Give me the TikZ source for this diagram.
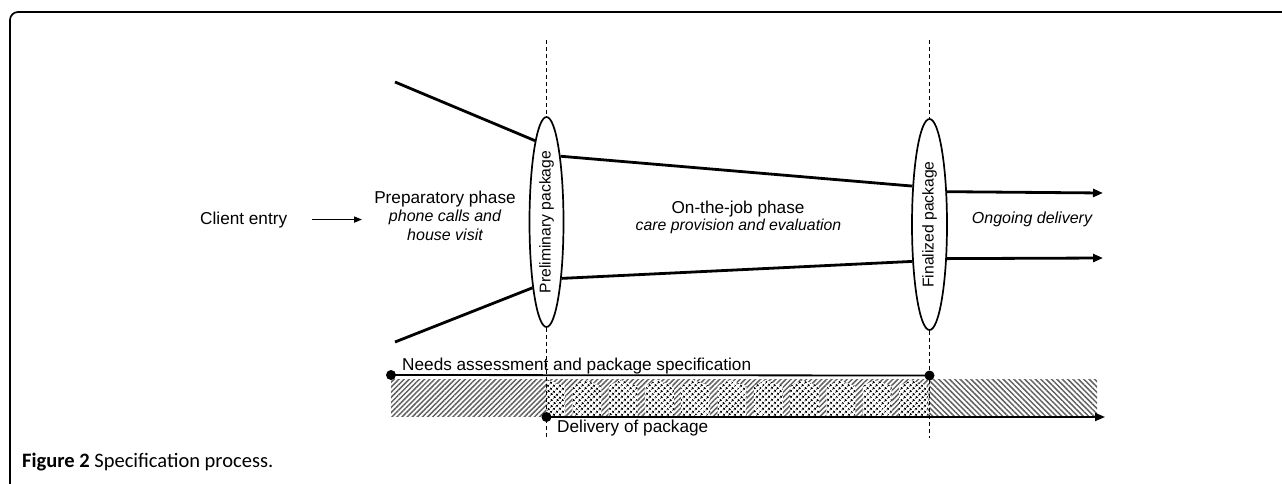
\documentclass[tikz,border=0pt]{standalone}
\usepackage{fontspec}
\setmainfont{Liberation Sans}
\newfontfamily\capfont{Carlito}
\usetikzlibrary{arrows.meta,patterns.meta,shapes.geometric}
\begin{document}
\begin{tikzpicture}[x=1pt,y=-1pt,
  txt/.style={inner sep=0pt, font=\fontsize{17.2}{20}\selectfont},
  itx/.style={inner sep=0pt, font=\fontsize{16}{19}\selectfont\itshape},
  pkg/.style={ellipse, draw, line width=1.7pt, minimum width=34pt, minimum height=210pt, inner sep=0pt},
  pkgtxt/.style={inner sep=0pt, rotate=90, font=\fontsize{15.7}{18}\selectfont},
  flow/.style={line width=2.8pt},
  flowarrow/.style={line width=2.8pt, -{Triangle[length=10pt,width=8pt]}},
  thinarrow/.style={line width=1.5pt, -{Triangle[length=8pt,width=6pt]}},
  guide/.style={line width=1.2pt, dash pattern=on 4pt off 3pt},
  dotmark/.style={circle, fill, inner sep=0pt, minimum size=10pt},
  stripeA/.style={pattern={Lines[angle=45,distance=3.6pt,line width=1.5pt]}, pattern color=black!62},
  stripeB/.style={pattern={Lines[angle=-45,distance=3.8pt,line width=1.5pt]}, pattern color=black!62},
  checks/.style={pattern={Dots[angle=45,distance=4pt,radius=1.4pt]}, pattern color=black},
]
\useasboundingbox (0,0) rectangle (1282,483);
% frame
\draw[line width=1.7pt, rounded corners=8pt] (10,495) -- (10,12) -- (1295,12);

% ellipses and labels
\node[pkg] (e1) at (546.5,222) {};
\node[pkgtxt] (l1) at (e1.center) {Preliminary package};
\node[pkg, minimum width=35pt, minimum height=211pt] (e2) at (929.5,224.5) {};
\node[pkgtxt] (l2) at (e2.center) {Finalized package};

% guide lines
\coordinate (g1t) at (546.5,40);
\coordinate (g1b) at (546.5,438);
\coordinate (g2t) at (929.5,40);
\coordinate (g2b) at (929.5,438);
\draw[guide] (g1t) -- (e1.north);
\draw[guide] (g2t) -- (e2.north);

% flow lines
\coordinate (in1) at (395,82);
\coordinate (in2) at (395,342);
\coordinate (out1) at (1103,193);
\coordinate (out2) at (1103,258);
\draw[flow] (in1) -- (e1.98);
\draw[flow] (in2) -- (e1.258.4);
\draw[flow] (e1.78) -- (e2.114.2);
\draw[flow] (e1.285.9) -- (e2.245.8);
\draw[flowarrow] (e2.62.1) -- (out1);
\draw[flowarrow] (e2.-63.6) -- (out2);

% texts
\node[txt, anchor=base west] (client) at (200,224) {Client entry};
\node[txt, anchor=base] (prep1) at (445,203) {Preparatory phase};
\node[itx, anchor=base] (prep2) at (445,221.5) {phone calls and};
\node[itx, anchor=base] (prep3) at (445,240) {house visit};
\draw[thinarrow, shorten <=25pt, shorten >=12pt] (client.east) -- (client.east -| prep1.west);
\node[txt, anchor=base] (job1) at (738,213) {On-the-job phase};
\node[itx, font=\fontsize{15.8}{18}\selectfont\itshape, anchor=base] (job2) at (738.5,230) {care provision and evaluation};
\node[itx, anchor=base] (ongo) at (1032,223) {Ongoing delivery};

% bands
\fill[stripeA] (391,379) rectangle (546.5,416);
\fill[stripeA] (546.5,379) rectangle (929.5,416);
\begin{scope}
\clip (546.5,379) rectangle (929.5,416);
\foreach \i in {0,...,10} {
  \fill[white] ({536+36.3*\i},386) -- ({536+36.3*\i+12},380) -- ({536+36.3*\i+29},386) -- ({536+36.3*\i+29},416) -- ({536+36.3*\i},416) -- cycle;
  \fill[checks] ({536+36.3*\i},386) -- ({536+36.3*\i+12},380) -- ({536+36.3*\i+29},386) -- ({536+36.3*\i+29},416) -- ({536+36.3*\i},416) -- cycle;
}
\end{scope}
\fill[stripeB] (929.5,379) rectangle (1097,416);

\draw[guide] (e1.south) -- (g1b);
\draw[guide] (e2.south) -- (g2b);

% timeline
\node[dotmark] (n1) at (391,375) {};
\node[dotmark] (n2) at (929.5,375.5) {};
\node[dotmark] (n3) at (546.5,417) {};
\coordinate (tend) at (1105,417);
\draw[line width=1.8pt] (n1.center) -- (n2.center);
\draw[line width=1.8pt, -{Triangle[length=10pt,width=8pt]}] (n3.center) -- (tend);
\node[txt, anchor=base west] (needs) at (402,370) {Needs assessment and package specification};
\node[txt, anchor=base west] (deliv) at (557,432.5) {Delivery of package};

% caption
\node[inner sep=0pt, anchor=base west, font=\capfont\fontsize{20.5}{23}\selectfont] (cap) at (22,467) {\textbf{Figure 2} Specification process.};
\end{tikzpicture}
\end{document}
